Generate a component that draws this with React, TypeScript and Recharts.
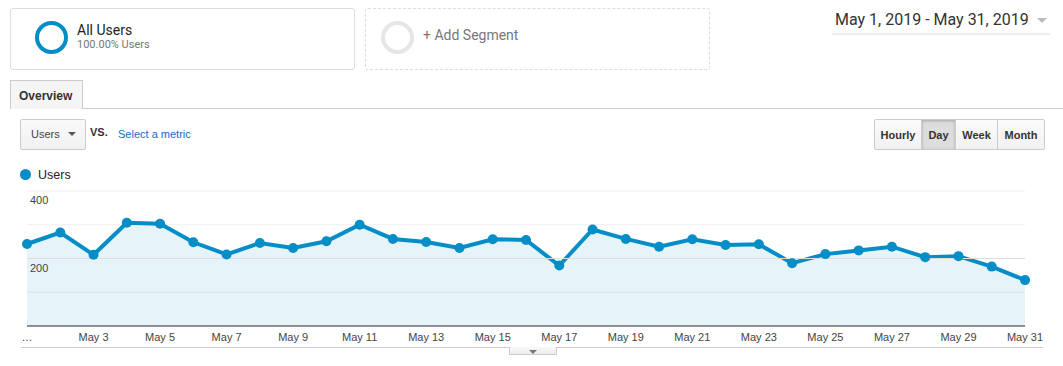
import React from 'react';
import { AreaChart, Area, XAxis, YAxis, CartesianGrid, ReferenceLine } from 'recharts';

const categories = [
  'May 1', 'May 2', 'May 3', 'May 4', 'May 5', 'May 6', 'May 7', 'May 8', 'May 9', 'May 10',
  'May 11', 'May 12', 'May 13', 'May 14', 'May 15', 'May 16', 'May 17', 'May 18', 'May 19', 'May 20',
  'May 21', 'May 22', 'May 23', 'May 24', 'May 25', 'May 26', 'May 27', 'May 28', 'May 29', 'May 30', 'May 31',
];
const users = [
  243, 277, 211, 306, 303, 248, 212, 246, 231, 251,
  300, 258, 249, 231, 257, 255, 179, 286, 258, 235,
  257, 240, 242, 186, 213, 224, 235, 204, 207, 176, 136,
];
const yTicks = [0, 100, 200, 300, 400];
const yTickLabels = [200, 400];
const xTickLabels = [
  '…', '', 'May 3', '', 'May 5', '', 'May 7', '', 'May 9', '',
  'May 11', '', 'May 13', '', 'May 15', '', 'May 17', '', 'May 19', '',
  'May 21', '', 'May 23', '', 'May 25', '', 'May 27', '', 'May 29', '', 'May 31',
];

const data = categories.map((day, i) => ({ day, users: users[i] }));

const BLUE = '#058dc7';
const ARIAL = 'Arial, "Liberation Sans", sans-serif';
const ROBOTO = 'Roboto, Arial, sans-serif';

const XTick = (props: any) => {
  const { x, y, index } = props;
  const label = xTickLabels[index];
  if (!label) return null;
  return (
    <text x={x} y={y + 15} textAnchor="middle" fontSize={11} fontFamily={ARIAL} fill="#444">
      {label}
    </text>
  );
};

const YTick = (props: any) => {
  const { x, y, payload } = props;
  const v = Number(payload && payload.value);
  if (!yTickLabels.includes(v)) return <g />;
  return (
    <text x={x + 3} y={y + 13} textAnchor="start" fontSize={11} fontFamily={ARIAL} fill="#444">
      {v}
    </text>
  );
};

const abs = (s: React.CSSProperties): React.CSSProperties => ({ position: 'absolute', ...s });

const btnBase: React.CSSProperties = {
  position: 'absolute', top: 119, height: 31, boxSizing: 'border-box', border: '1px solid #ccc',
  background: 'linear-gradient(#fbfbfb, #f1f1f1)', fontFamily: ARIAL, fontWeight: 'bold', fontSize: 11,
  color: '#333', display: 'flex', alignItems: 'center', justifyContent: 'center',
};

export default function App() {
  return (
    <div style={abs({ left: 0, top: 0, width: 1063, height: 366, background: '#fff', overflow: 'hidden' })}>
      {/* Segment 1 */}
      <div style={abs({ left: 10, top: 8, width: 345, height: 62, boxSizing: 'border-box', border: '1px solid #ddd', borderRadius: 3 })} />
      <div style={abs({ left: 35, top: 21, width: 33, height: 33, boxSizing: 'border-box', border: `4.5px solid ${BLUE}`, borderRadius: '50%' })} />
      <div style={abs({ left: 77, top: 21, fontFamily: ROBOTO, fontSize: 14, lineHeight: '18px', color: '#222' })}>All Users</div>
      <div style={abs({ left: 77, top: 38, fontFamily: ROBOTO, fontSize: 11, lineHeight: '14px', color: '#777' })}>100.00% Users</div>

      {/* Segment 2 */}
      <div style={abs({ left: 365, top: 8, width: 345, height: 62, boxSizing: 'border-box', border: '1px dashed #ddd', borderRadius: 3 })} />
      <div style={abs({ left: 381, top: 21, width: 33, height: 33, boxSizing: 'border-box', border: '4px solid #e6e6e6', borderRadius: '50%' })} />
      <div style={abs({ left: 423, top: 26, fontFamily: ROBOTO, fontSize: 14, lineHeight: '18px', color: '#777' })}>+ Add Segment</div>

      {/* Date range */}
      <div style={abs({ left: 835, top: 10, fontFamily: ROBOTO, fontSize: 16, lineHeight: '20px', color: '#333', whiteSpace: 'nowrap' })}>May 1, 2019 - May 31, 2019</div>
      <div style={abs({ left: 1037, top: 18, width: 0, height: 0, borderLeft: '5.5px solid transparent', borderRight: '5.5px solid transparent', borderTop: '5px solid #bbb' })} />
      <div style={abs({ left: 832, top: 33, width: 218, height: 2, background: '#eee' })} />

      {/* Tabs */}
      <div style={abs({ left: 10, top: 108, width: 1053, height: 1, background: '#ccc' })} />
      <div style={abs({ left: 10, top: 80, width: 73, height: 29, boxSizing: 'border-box', border: '1px solid #ccc', borderBottom: 'none', background: '#f5f5f5', fontFamily: ARIAL, fontWeight: 'bold', fontSize: 12, color: '#333', display: 'flex', alignItems: 'center', paddingLeft: 8, paddingTop: 2 })}>Overview</div>

      {/* Metric selector */}
      <div style={abs({ left: 20, top: 119, width: 66, height: 31, boxSizing: 'border-box', border: '1px solid #ccc', borderRadius: 2, background: 'linear-gradient(#f9f9f9, #f1f1f1)' })} />
      <div style={abs({ left: 31, top: 127, fontFamily: ARIAL, fontSize: 11, lineHeight: '14px', color: '#444' })}>Users</div>
      <div style={abs({ left: 68, top: 132, width: 0, height: 0, borderLeft: '4px solid transparent', borderRight: '4px solid transparent', borderTop: '4px solid #555' })} />
      <div style={abs({ left: 90, top: 125, fontFamily: ARIAL, fontSize: 11, fontWeight: 'bold', lineHeight: '14px', color: '#333' })}>VS.</div>
      <div style={abs({ left: 118, top: 127, fontFamily: ARIAL, fontSize: 11, lineHeight: '14px', color: '#1a6bc4' })}>Select a metric</div>

      {/* Period buttons */}
      <div style={{ ...btnBase, left: 874, width: 48, borderRadius: '2px 0 0 2px' }}>Hourly</div>
      <div style={{ ...btnBase, left: 921, width: 35, background: '#dddddd', boxShadow: 'inset 0 1px 3px rgba(0,0,0,0.25)' }}>Day</div>
      <div style={{ ...btnBase, left: 955, width: 43 }}>Week</div>
      <div style={{ ...btnBase, left: 997, width: 48, borderRadius: '0 2px 2px 0' }}>Month</div>

      {/* Legend */}
      <div style={abs({ left: 20, top: 169, width: 11, height: 11, borderRadius: '50%', background: BLUE })} />
      <div style={abs({ left: 38, top: 167, fontFamily: ARIAL, fontSize: 12.5, lineHeight: '16px', color: '#222' })}>Users</div>

      {/* Chart */}
      <div style={abs({ left: 0, top: 160, width: 1063, height: 206 })}>
        <AreaChart width={1063} height={206} data={data} margin={{ top: 31, right: 38, bottom: 10, left: 27 }}>
          <CartesianGrid vertical={false} stroke="#eeeeee" />
          <ReferenceLine y={200} stroke="#dddddd" />
          <XAxis dataKey="day" interval={0} height={30} tickLine={false} tickSize={0} tickMargin={0}
            axisLine={{ stroke: '#333', strokeWidth: 1 }} tick={<XTick />} padding={{ left: 0, right: 0 }} />
          <Area type="linear" dataKey="users" stroke={BLUE} strokeWidth={4} fill={BLUE} fillOpacity={0.1}
            dot={{ r: 5, fill: BLUE, fillOpacity: 1, stroke: 'none', strokeWidth: 0 }} activeDot={false} isAnimationActive={false} />
          <YAxis mirror width={40} domain={[0, 400]} ticks={yTicks} interval={0} axisLine={false} tickLine={false}
            tickSize={0} tickMargin={0} tick={<YTick />} />
        </AreaChart>
      </div>

      {/* Bottom line and toggle */}
      <div style={abs({ left: 21, top: 347, width: 1022, height: 1, background: '#ccc' })} />
      <div style={abs({ left: 509, top: 347, width: 48, height: 8, boxSizing: 'border-box', border: '1px solid #ccc', borderTop: 'none', background: 'linear-gradient(#f9f9f9, #ececec)' })} />
      <div style={abs({ left: 529, top: 350, width: 0, height: 0, borderLeft: '4px solid transparent', borderRight: '4px solid transparent', borderTop: '4px solid #777' })} />
    </div>
  );
}
